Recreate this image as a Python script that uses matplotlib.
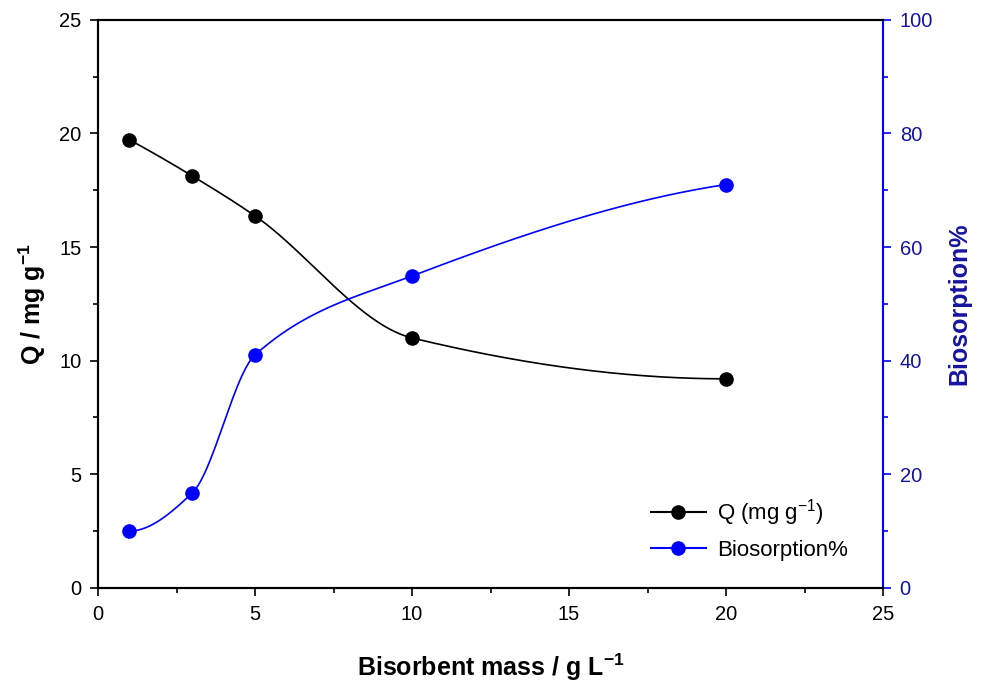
import numpy as np
import matplotlib
matplotlib.use("Agg")
import matplotlib.pyplot as plt
from matplotlib.ticker import MultipleLocator

plt.rcParams['font.family'] = ['Liberation Sans', 'DejaVu Sans']
plt.rcParams['mathtext.fontset'] = 'custom'
plt.rcParams['mathtext.rm'] = 'Liberation Sans'
plt.rcParams['mathtext.bf'] = 'Liberation Sans:bold'
plt.rcParams['mathtext.default'] = 'regular'

mass = [1, 3, 5, 10, 20]
q_values = [19.72, 18.13, 16.37, 11.0, 9.2]
biosorption = [10.0, 16.7, 41.0, 54.9, 71.0]


def pchip(x, y, n=400):
    x = np.asarray(x, float)
    y = np.asarray(y, float)
    h = np.diff(x)
    d = np.diff(y) / h
    k = len(x)
    m = np.zeros(k)
    for i in range(1, k - 1):
        if d[i - 1] * d[i] <= 0:
            m[i] = 0
        else:
            w1 = 2 * h[i] + h[i - 1]
            w2 = h[i] + 2 * h[i - 1]
            m[i] = (w1 + w2) / (w1 / d[i - 1] + w2 / d[i])

    def end(h0, h1, d0, d1):
        s = ((2 * h0 + h1) * d0 - h0 * d1) / (h0 + h1)
        if np.sign(s) != np.sign(d0):
            s = 0
        elif np.sign(d0) != np.sign(d1) and abs(s) > abs(3 * d0):
            s = 3 * d0
        return s
    m[0] = end(h[0], h[1], d[0], d[1])
    m[-1] = end(h[-1], h[-2], d[-1], d[-2])
    xs = np.linspace(x[0], x[-1], n)
    ys = np.empty_like(xs)
    for j, xv in enumerate(xs):
        i = int(np.clip(np.searchsorted(x, xv, side='right') - 1, 0, k - 2))
        t = (xv - x[i]) / h[i]
        h00 = 2 * t ** 3 - 3 * t ** 2 + 1
        h10 = t ** 3 - 2 * t ** 2 + t
        h01 = -2 * t ** 3 + 3 * t ** 2
        h11 = t ** 3 - t ** 2
        ys[j] = h00 * y[i] + h10 * h[i] * m[i] + h01 * y[i + 1] + h11 * h[i] * m[i + 1]
    return xs, ys


fig = plt.figure(figsize=(9.85, 6.82), dpi=100)
ax = fig.add_axes([0.0995, 0.138, 0.797, 0.833])
ax2 = ax.twinx()

xs, ys = pchip(mass, q_values)
ax.plot(xs, ys, color='black', lw=1.2)
ax.plot(mass, q_values, 'o', color='black', ms=9.5)
ax.plot([], [], '-o', color='black', ms=9.5, lw=1.5, label='Q (mg g$^{-1}$)')

xs2, ys2 = pchip(mass, biosorption)
ax2.plot(xs2, ys2, color='blue', lw=1.2)
ax2.plot(mass, biosorption, 'o', color='blue', ms=9.5)
ax.plot([], [], '-o', color='blue', ms=9.5, lw=1.5, label='Biosorption%')

ax.set_xlim(0, 25)
ax.set_ylim(0, 25)
ax2.set_ylim(0, 100)

ax.xaxis.set_major_locator(MultipleLocator(5))
ax.xaxis.set_minor_locator(MultipleLocator(2.5))
ax.yaxis.set_major_locator(MultipleLocator(5))
ax.yaxis.set_minor_locator(MultipleLocator(2.5))
ax2.yaxis.set_major_locator(MultipleLocator(20))
ax2.yaxis.set_minor_locator(MultipleLocator(10))

ax.tick_params(axis='both', which='major', direction='out', length=6, width=1.2, labelsize=14.5, pad=6)
ax.tick_params(axis='both', which='minor', direction='out', length=3.5, width=1.2)
ax2.tick_params(axis='y', which='major', direction='out', length=6, width=1.2, labelsize=14.5,
                colors='blue', labelcolor='#1414a0', pad=6)
ax2.tick_params(axis='y', which='minor', direction='out', length=3.5, width=1.2, colors='blue')

for s in ['left', 'bottom', 'top']:
    ax.spines[s].set_linewidth(1.5)
    ax2.spines[s].set_linewidth(1.5)
ax.spines['right'].set_visible(False)
ax2.spines['right'].set_color('blue')
ax2.spines['right'].set_linewidth(1.5)

ax.set_xlabel('Bisorbent mass / g L$^{\\mathbf{-1}}$', fontsize=18, fontweight='bold', labelpad=20)
ax.set_ylabel('Q / mg g$^{\\mathbf{-1}}$', fontsize=18, fontweight='bold', labelpad=8)
ax2.set_ylabel('Biosorption%', fontsize=18, fontweight='bold', color='#1414a0', labelpad=10)

leg = ax.legend(loc='lower right', bbox_to_anchor=(0.981, 0.012), frameon=False, fontsize=16,
                handlelength=2.5, labelspacing=0.55, handletextpad=0.5)

fig.savefig('out.png', dpi=100)
